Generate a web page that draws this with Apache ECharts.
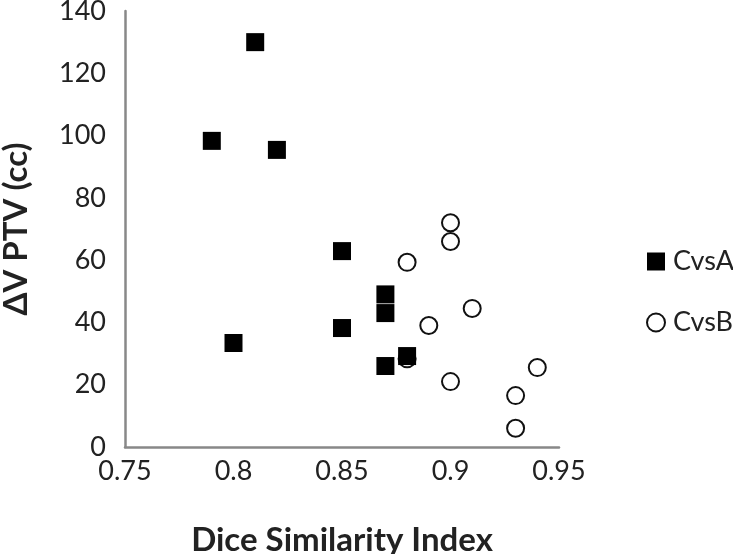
<!DOCTYPE html>
<html>
<head>
<meta charset="utf-8">
<script src="https://cdn.jsdelivr.net/npm/echarts@6/dist/echarts.min.js"></script>
<style>html,body{margin:0;padding:0;background:#fff;}#c{width:733px;height:554px;}</style>
</head>
<body>
<div id="c"></div>
<script>
const cvsA_x = [0.81, 0.79, 0.82, 0.85, 0.87, 0.87, 0.80, 0.85, 0.87, 0.88];
const cvsA_y = [130, 98.3, 95.4, 62.9, 49, 43, 33.4, 38.2, 26, 29.2];
const cvsB_x = [0.90, 0.90, 0.88, 0.91, 0.89, 0.88, 0.90, 0.94, 0.93, 0.93];
const cvsB_y = [72, 66, 59.3, 44.5, 39, 28.3, 21, 25.5, 16.5, 6];
const xTicks = [0.75, 0.8, 0.85, 0.9, 0.95];
const yTicks = [0, 20, 40, 60, 80, 100, 120, 140];

const FONT = 'Lato';
const chart = echarts.init(document.getElementById('c'));
chart.setOption({
  animation: false,
  backgroundColor: '#fff',
  grid: { left: 125, top: 11, right: 174, bottom: 107, containLabel: false, outerBoundsMode: 'none' },
  legend: {
    orient: 'vertical', left: 641, top: 243, itemGap: 34, itemWidth: 18, itemHeight: 18,
    textStyle: { fontFamily: FONT, fontSize: 27, color: '#222', padding: [0, 0, 0, 3] },
    data: ['CvsA', 'CvsB']
  },
  xAxis: {
    type: 'value', min: 0.75, max: 0.95, interval: 0.05,
    name: 'Dice Similarity Index', nameLocation: 'middle', nameGap: 77,
    nameTextStyle: { fontFamily: FONT, fontSize: 33, fontWeight: 'bold', color: '#222' },
    axisLine: { show: true, lineStyle: { color: '#888', width: 2.5 } },
    axisTick: { show: false }, splitLine: { show: false },
    axisLabel: { fontFamily: FONT, fontSize: 27, color: '#222', margin: 11,
      formatter: v => { const t = xTicks.find(k => Math.abs(k - v) < 1e-6); return t === undefined ? '' : String(t); } }
  },
  yAxis: {
    type: 'value', min: 0, max: 140, interval: 20,
    name: 'ΔV PTV (cc)', nameLocation: 'middle', nameGap: 92,
    nameTextStyle: { fontFamily: FONT, fontSize: 33, fontWeight: 'bold', color: '#222' },
    axisLine: { show: true, lineStyle: { color: '#888', width: 2.5 } },
    axisTick: { show: false }, splitLine: { show: false },
    axisLabel: { fontFamily: FONT, fontSize: 27, color: '#222', margin: 19,
      formatter: v => { const t = yTicks.find(k => Math.abs(k - v) < 1e-6); return t === undefined ? '' : String(t); } }
  },
  series: [
    {
      name: 'CvsB', type: 'scatter', symbol: 'circle', symbolSize: 17,
      itemStyle: { color: '#fff', borderColor: '#111', borderWidth: 2, opacity: 1 },
      data: cvsB_x.map((x, i) => [x, cvsB_y[i]]), z: 2
    },
    {
      name: 'CvsA', type: 'scatter', symbol: 'rect', symbolSize: 18,
      itemStyle: { color: '#000', opacity: 1 },
      data: cvsA_x.map((x, i) => [x, cvsA_y[i]]), z: 3
    }
  ]
});
</script>
</body>
</html>
